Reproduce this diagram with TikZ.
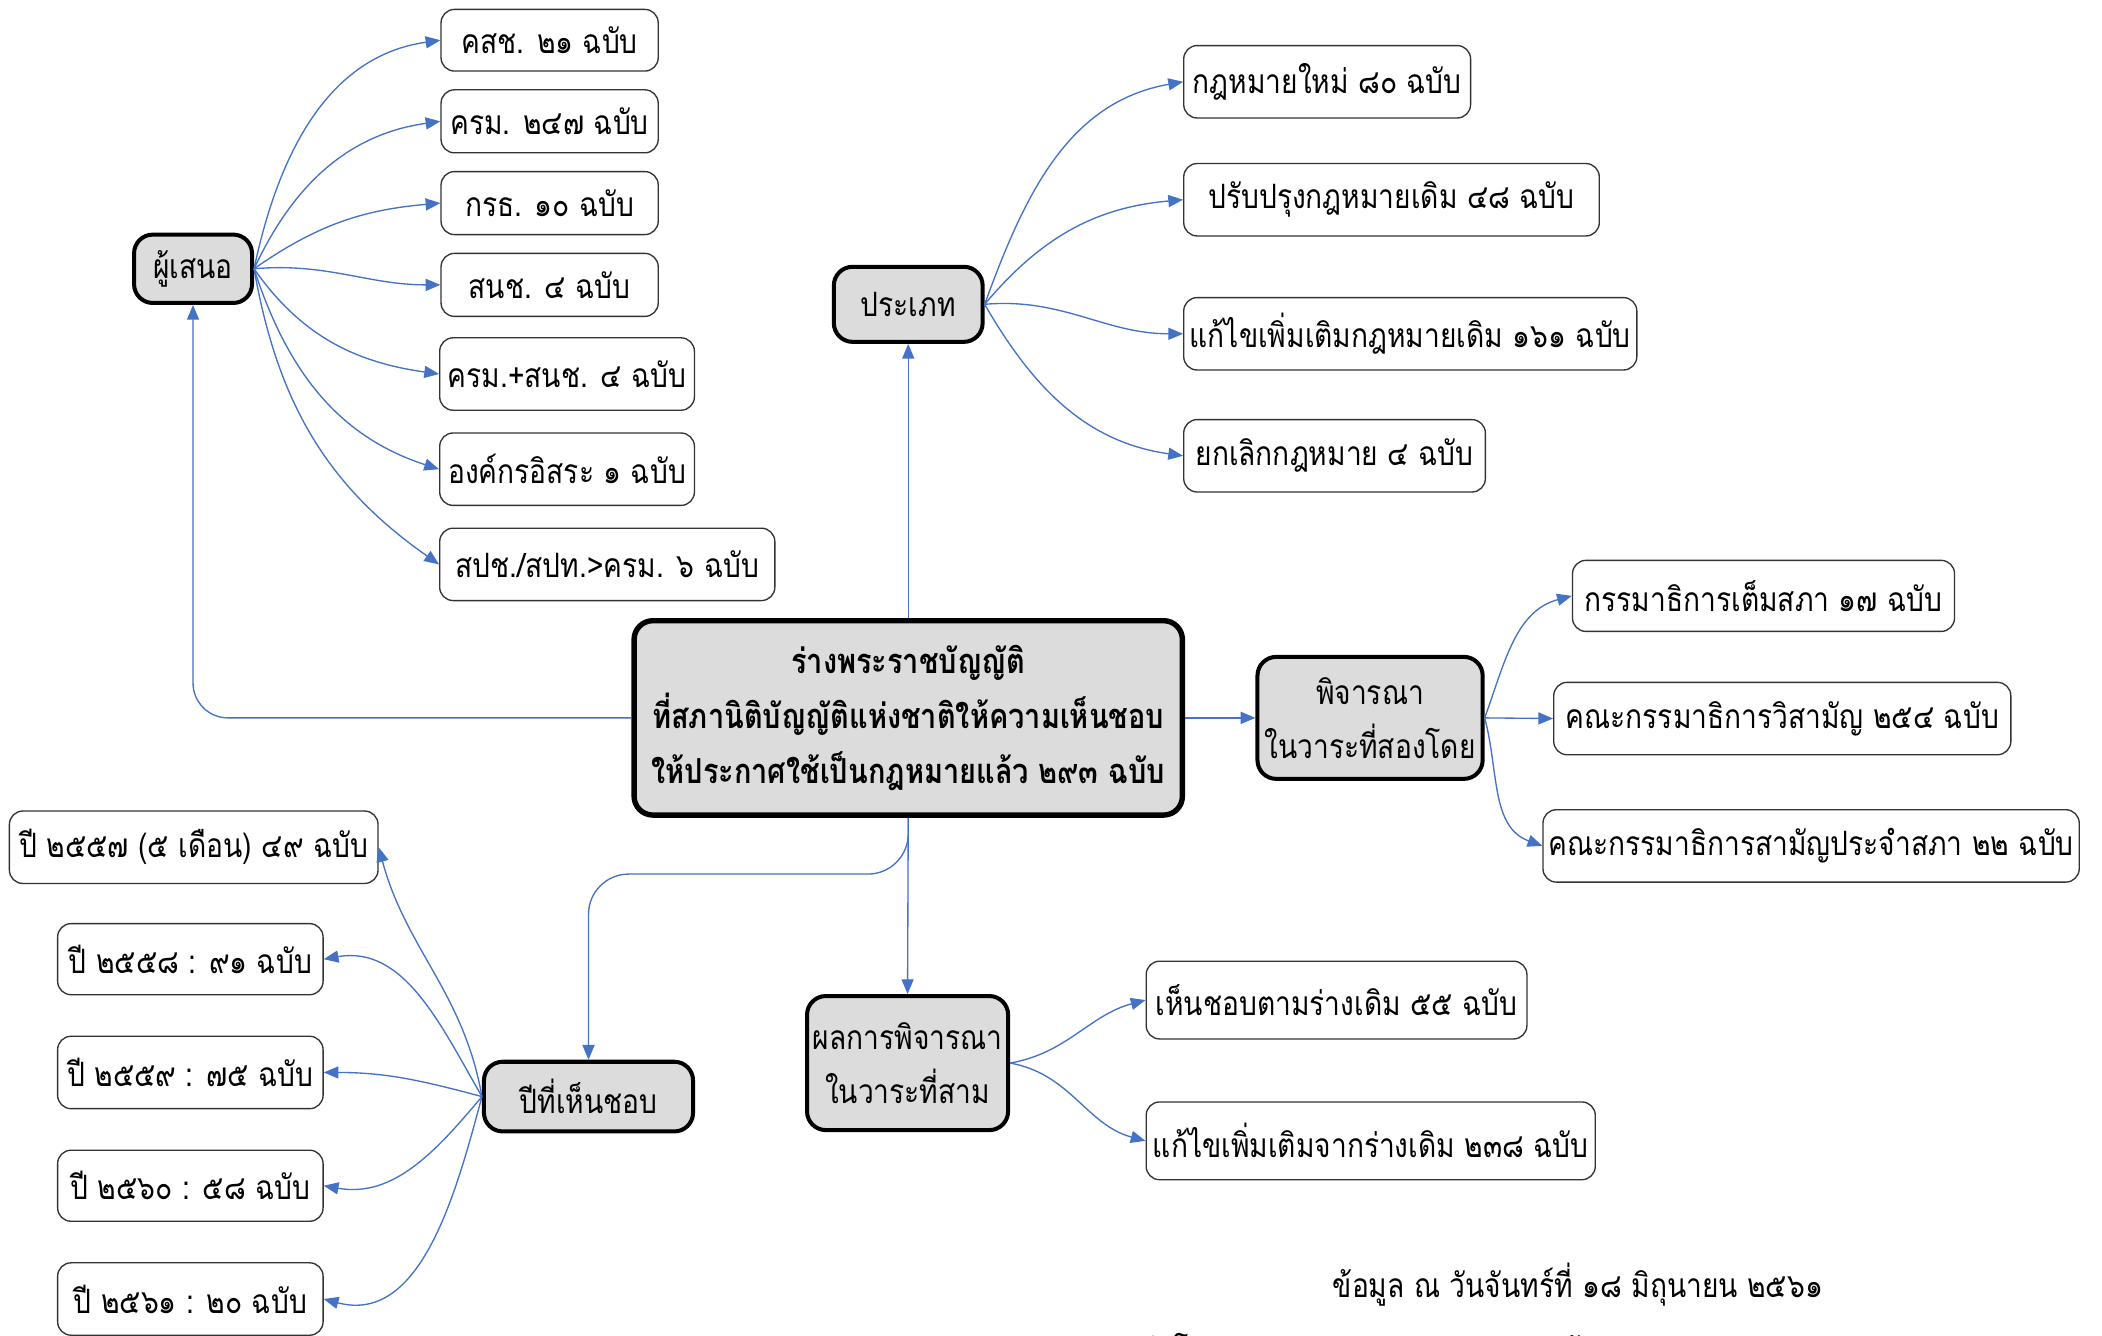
\documentclass[tikz,border=0pt]{standalone}
\usepackage{fontspec}
\setmainfont[Script=Thai, FakeStretch=0.84]{Loma}
\usetikzlibrary{arrows.meta}
\definecolor{connblue}{HTML}{4472C4}
\definecolor{mainfill}{HTML}{DCDCDC}
\tikzset{
  mainbox/.style={draw=black, line width=3pt, fill=mainfill, rounded corners=14pt,
    inner sep=0pt, align=center, font=\fontsize{25}{40}\selectfont},
  leafbox/.style={draw=black!80, line width=1pt, fill=white, rounded corners=10pt,
    inner sep=0pt, align=center, font=\fontsize{25}{30}\selectfont},
  connector/.style={draw=connblue, line width=1pt, -{Triangle[length=11pt,width=9pt]}},
}
\begin{document}
\begin{tikzpicture}[x=1pt,y=-1pt]
\useasboundingbox (0,0) rectangle (1568,996);
% main nodes
\node[mainbox, line width=4pt, minimum width=409pt, minimum height=145pt, font=\fontsize{25.7}{41}\selectfont\bfseries] (M) at (677.5,535.5)
  {ร่างพระราชบัญญัติ\\ที่สภานิติบัญญัติแห่งชาติให้ความเห็นชอบ\\ให้ประกาศใช้เป็นกฎหมายแล้ว ๒๙๓ ฉบับ};
\node[mainbox, minimum width=88pt, minimum height=51pt] (P) at (144,200.5) {ผู้เสนอ};
\node[mainbox, minimum width=111pt, minimum height=56pt] (T) at (677.5,227) {ประเภท};
\node[mainbox, minimum width=168pt, minimum height=91pt] (S) at (1022,535.5) {พิจารณา\\ในวาระที่สองโดย};
\node[mainbox, minimum width=150pt, minimum height=100pt] (R) at (677,793) {ผลการพิจารณา\\ในวาระที่สาม};
\node[mainbox, minimum width=156pt, minimum height=52pt] (Y) at (439,818) {ปีที่เห็นชอบ};
% proposer leaves
\node[leafbox, minimum width=162pt, minimum height=46pt] (L1) at (410,30) {คสช. ๒๑ ฉบับ};
\node[leafbox, minimum width=162pt, minimum height=47pt] (L2) at (410,90.5) {ครม. ๒๔๗ ฉบับ};
\node[leafbox, minimum width=162pt, minimum height=47pt] (L3) at (410,151.5) {กรธ. ๑๐ ฉบับ};
\node[leafbox, minimum width=162pt, minimum height=47pt] (L4) at (410,212.5) {สนช. ๔ ฉบับ};
\node[leafbox, minimum width=190pt, minimum height=54pt] (L5) at (423,279) {ครม.+สนช. ๔ ฉบับ};
\node[leafbox, minimum width=190pt, minimum height=54pt] (L6) at (423,350) {องค์กรอิสระ ๑ ฉบับ};
\node[leafbox, minimum width=250pt, minimum height=54pt] (L7) at (453,421) {สปช./สปท.>ครม. ๖ ฉบับ};
% type leaves
\node[leafbox, minimum width=214pt, minimum height=54pt] (T1) at (990,61) {กฎหมายใหม่ ๘๐ ฉบับ};
\node[leafbox, minimum width=310pt, minimum height=54pt] (T2) at (1038,149) {ปรับปรุงกฎหมายเดิม ๔๘ ฉบับ};
\node[leafbox, minimum width=338pt, minimum height=54pt] (T3) at (1052,249) {แก้ไขเพิ่มเติมกฎหมายเดิม ๑๖๑ ฉบับ};
\node[leafbox, minimum width=225pt, minimum height=54pt] (T4) at (995.5,340) {ยกเลิกกฎหมาย ๔ ฉบับ};
% committee leaves
\node[leafbox, minimum width=285pt, minimum height=53pt] (C1) at (1315.5,444.5) {กรรมาธิการเต็มสภา ๑๗ ฉบับ};
\node[leafbox, minimum width=341pt, minimum height=54pt] (C2) at (1329.5,536) {คณะกรรมาธิการวิสามัญ ๒๕๔ ฉบับ};
\node[leafbox, minimum width=400pt, minimum height=54pt] (C3) at (1351,631) {คณะกรรมาธิการสามัญประจำสภา ๒๒ ฉบับ};
% result leaves
\node[leafbox, minimum width=284pt, minimum height=58pt] (R1) at (997,746) {เห็นชอบตามร่างเดิม ๕๕ ฉบับ};
\node[leafbox, minimum width=335pt, minimum height=58pt] (R2) at (1022.5,851) {แก้ไขเพิ่มเติมจากร่างเดิม ๒๓๘ ฉบับ};
% year leaves
\node[leafbox, minimum width=275pt, minimum height=54pt] (Y1) at (144.5,632) {ปี ๒๕๕๗ (๕ เดือน) ๔๙ ฉบับ};
\node[leafbox, minimum width=198pt, minimum height=53pt] (Y2) at (142,715.5) {ปี ๒๕๕๘ : ๙๑ ฉบับ};
\node[leafbox, minimum width=198pt, minimum height=54pt] (Y3) at (142,800) {ปี ๒๕๕๙ : ๗๕ ฉบับ};
\node[leafbox, minimum width=198pt, minimum height=53pt] (Y4) at (142,884.5) {ปี ๒๕๖๐ : ๕๘ ฉบับ};
\node[leafbox, minimum width=198pt, minimum height=54pt] (Y5) at (142,969) {ปี ๒๕๖๑ : ๒๐ ฉบับ};
% footer
\node[font=\fontsize{25}{30}\selectfont] (F1) at (1177,958) {ข้อมูล ณ วันจันทร์ที่ ๑๘ มิถุนายน ๒๕๖๑};
\node[font=\fontsize{25}{30}\selectfont, anchor=west] (F2) at (820,1009) {จัดทำโดย ฝ่ายประสานงานและบริการข้อมูล กลุ่มงานสภานิติบัญญัติแห่งชาติ};
% trunk connectors
\draw[connector, rounded corners=26pt] (M.west) -| (P.south);
\draw[connector] (M.north) -- (T.south);
\draw[connector] (M.east) -- (S.west);
\draw[connector] (M.south) -- (R.north);
\draw[connector, rounded corners=30pt] (M.south) -- ++(0,42) -| (Y.north);
% proposer
\draw[connector] (P.east) to[out=78,in=188] (L1.west);
\draw[connector] (P.east) to[out=65,in=188] (L2.west);
\draw[connector] (P.east) to[out=35,in=185] (L3.west);
\draw[connector] (P.east) to[out=5,in=180] (L4.west);
\draw[connector] (P.east) to[out=-55,in=172] (L5.west);
\draw[connector] (P.east) to[out=-72,in=162] (L6.west);
\draw[connector] (P.east) to[out=-80,in=145] (L7.west);
% type
\draw[connector] (T.east) to[out=70,in=190] (T1.west);
\draw[connector] (T.east) to[out=50,in=185] (T2.west);
\draw[connector] (T.east) to[out=5,in=180] (T3.west);
\draw[connector] (T.east) to[out=-60,in=172] (T4.west);
% committee
\draw[connector] (S.east) to[out=70,in=195] (C1.west);
\draw[connector] (S.east) -- (C2.west);
\draw[connector] (S.east) to[out=-75,in=160] (C3.west);
% result
\draw[connector] (R.east) to[out=10,in=195] (R1.west);
\draw[connector] (R.east) to[out=-10,in=165] (R2.west);
% years
\draw[connector] (Y.west) to[out=100,in=-75] (Y1.east);
\draw[connector] (Y.west) to[out=120,in=10] (Y2.east);
\draw[connector] (Y.west) to[out=165,in=0] (Y3.east);
\draw[connector] (Y.west) to[out=-130,in=-10] (Y4.east);
\draw[connector] (Y.west) to[out=-105,in=-15] (Y5.east);
\end{tikzpicture}
\end{document}
